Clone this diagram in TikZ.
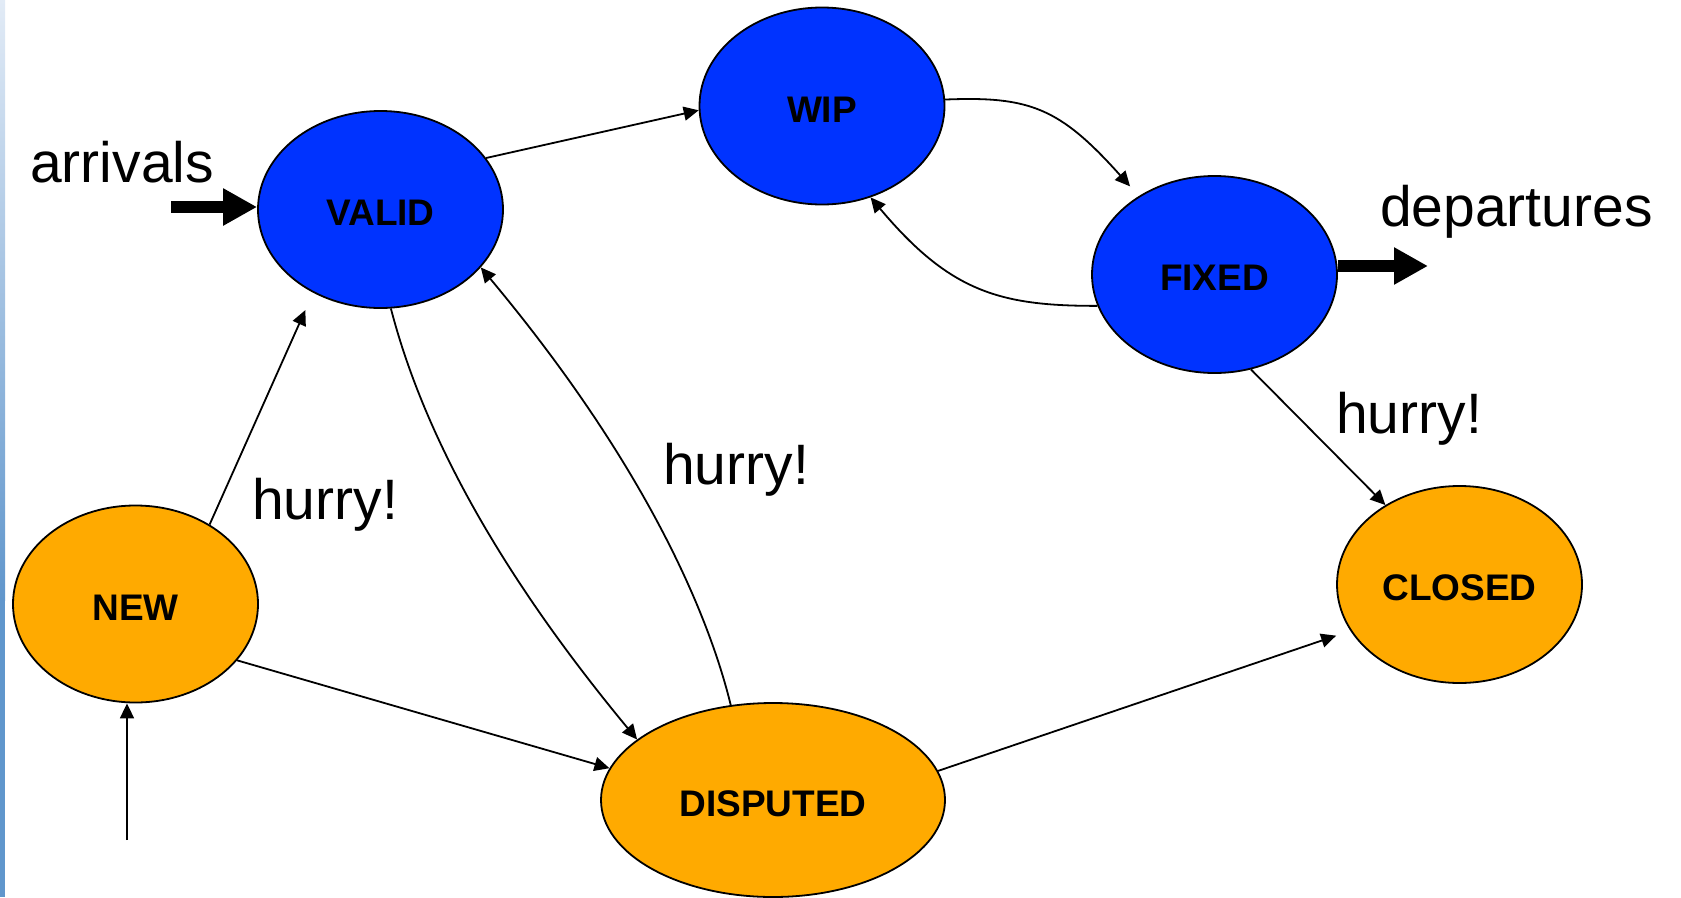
\documentclass[tikz,border=0pt]{standalone}
\usepackage{fontspec}
\setmainfont{Liberation Sans}
\usetikzlibrary{shapes.geometric,arrows.meta}
\definecolor{stateblue}{RGB}{0,51,255}
\definecolor{stateorange}{RGB}{255,170,0}
\definecolor{stripetop}{RGB}{226,235,246}
\definecolor{stripebot}{RGB}{96,150,204}

\begin{document}
\begin{tikzpicture}[x=1pt,y=-1pt,
  state/.style={ellipse,draw=black,line width=1.8pt,inner sep=0pt,
    minimum width=245pt,minimum height=197pt,text height=32pt,text depth=0pt,
    font=\fontsize{37}{44}\selectfont\bfseries},
  active/.style={state,fill=stateblue},
  waiting/.style={state,fill=stateorange},
  trans/.style={line width=1.8pt,-{Triangle[length=15pt,width=14pt]}},
  flow/.style={line width=12pt,-{Triangle[length=34pt,width=35pt]}},
  caption/.style={anchor=base west,inner sep=0pt,font=\fontsize{57}{68}\selectfont}]

\useasboundingbox (0,0) rectangle (1681,897);

% side strip
\shade[top color=stripetop,bottom color=stripebot] (0,0) rectangle (5,600);
\fill[stripebot] (0,600) rectangle (5,897);

% states
\node[active] (valid) at (380.5,209.5) {VALID};
\node[active] (wip) at (822,106) {WIP};
\node[active] (fixed) at (1214.5,274.5) {FIXED};
\node[waiting] (new) at (135.5,604) {NEW};
\node[waiting] (closed) at (1459.5,584.5) {CLOSED};
\node[waiting,minimum width=344pt,minimum height=194pt] (disputed) at (773,800) {DISPUTED};

% captions
\node[caption] (arrivals) at (30,182) {arrivals};
\node[caption] (departures) at (1380,226) {departures};
\node[caption] (hurry1) at (252,519) {hurry!};
\node[caption] (hurry2) at (663,484) {hurry!};
\node[caption] (hurry3) at (1336,433) {hurry!};

% free ends
\coordinate (arrin) at (171,207);
\coordinate (depout) at (1428,266);
\coordinate (newin) at (127,840);

% inflow / outflow
\draw[flow] (arrin) -- (arrin -| valid.west);
\draw[flow] (depout -| fixed.east) -- (depout);
\draw[trans] (newin) -- (newin |- new.south);

% transitions
\draw[trans] (valid.26) -- (wip.182);
\draw[trans,shorten >=13pt] (wip.3) .. controls (1030,96) and (1060,108) .. (fixed.134);
\draw[trans] (fixed.195) .. controls (1000,306) and (950,292) .. (wip.-62);
\draw[trans] (fixed.-69) -- (closed.133);
\draw[trans,shorten >=15pt] (disputed.10) -- (closed.203);
\draw[trans,shorten >=19pt] (new.47) -- (valid.-129);
\draw[trans] (new.-29) -- (disputed.169);
\draw[trans] (valid.-84) .. controls (425,440) and (505,580) .. (disputed.156);
\draw[trans] (disputed.114) .. controls (710,620) and (650,470) .. (valid.-30);
\end{tikzpicture}
\end{document}
